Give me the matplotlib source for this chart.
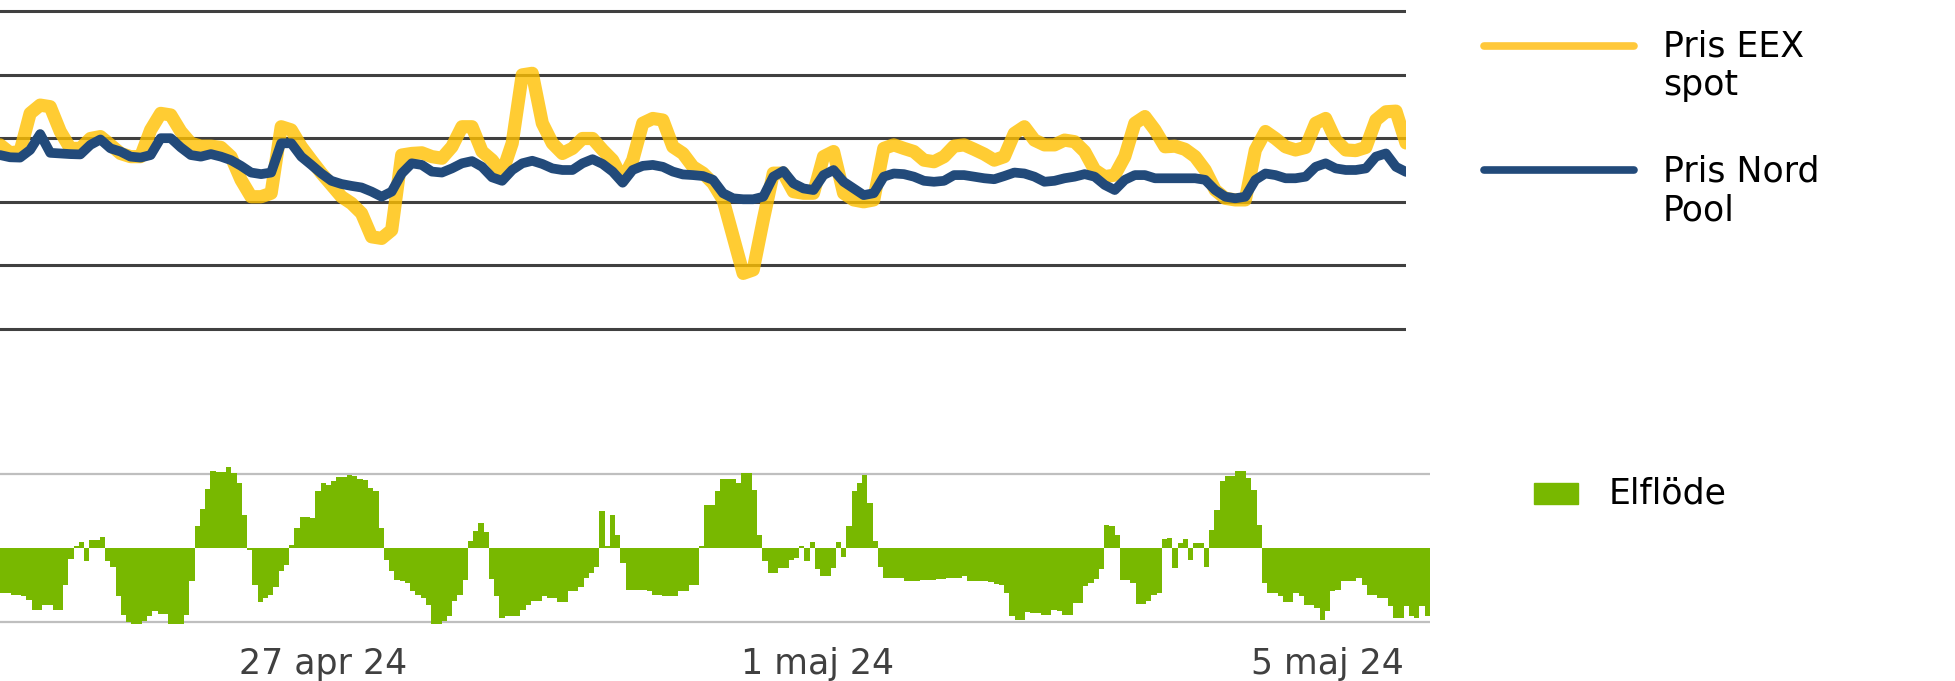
import matplotlib.pyplot as plt
from matplotlib.lines import Line2D
from matplotlib.patches import Rectangle

plt.rcParams['font.family'] = ['DejaVu Sans']

# Pris EEX spot (gul) och Pris Nord Pool (blå)
eex_spot = [57.9, 55.4, 55.8, 67.8, 70.4, 69.9, 62.1, 56.8, 56.8, 59.9,
            60.5, 57.9, 55.2, 54.2, 54.2, 62.6, 67.8, 67.3, 62.1, 58.4,
            57.5, 57.5, 57.1, 54.2, 46.9, 41.6, 41.6, 42.7, 63.6, 62.6,
            57.3, 53.1, 49.0, 45.3, 41.6, 39.5, 36.4, 29.0, 28.5, 31.1,
            54.7, 55.2, 55.4, 54.2, 53.7, 57.3, 63.6, 63.6, 55.8, 53.1,
            49.0, 58.4, 79.9, 80.4, 64.7, 58.4, 55.2, 56.8, 59.9, 59.9,
            56.3, 53.1, 46.9, 53.1, 64.7, 66.2, 65.7, 57.3, 55.2, 51.0,
            49.0, 45.8, 40.6, 29.0, 17.5, 18.6, 34.3, 49.0, 49.0, 43.2,
            42.7, 42.7, 54.2, 55.8, 42.7, 40.6, 40.0, 40.6, 56.8, 57.9,
            56.8, 55.8, 53.1, 52.6, 54.2, 57.5, 57.9, 56.5, 55.0, 53.1,
            54.2, 61.5, 63.6, 59.4, 57.9, 57.9, 59.4, 58.9, 55.8, 50.0,
            47.9, 48.4, 54.2, 64.7, 66.8, 62.6, 57.3, 57.5, 56.5, 54.2,
            50.0, 43.7, 41.1, 40.6, 40.6, 56.3, 62.1, 59.9, 57.3, 56.3,
            57.1, 64.7, 66.2, 59.4, 56.3, 56.1, 57.1, 65.7, 68.3, 68.5,
            58.5]

nord_pool = [54.7, 54.0, 53.9, 56.3, 61.3, 55.4, 55.2, 55.0, 54.9, 57.9,
             59.6, 56.8, 55.8, 54.2, 53.9, 54.7, 60.0, 60.0, 57.1, 54.7,
             54.2, 55.0, 54.2, 53.1, 51.3, 49.2, 48.7, 49.2, 58.4, 58.4,
             54.2, 51.6, 48.9, 46.6, 45.6, 45.0, 44.5, 43.2, 41.6, 43.2,
             48.9, 52.1, 51.6, 49.5, 49.2, 50.5, 52.1, 52.8, 51.0, 47.7,
             46.6, 50.0, 52.1, 52.9, 51.9, 50.5, 50.0, 50.0, 52.1, 53.4,
             51.9, 49.5, 46.0, 50.0, 51.3, 51.6, 51.0, 49.5, 48.6, 48.4,
             48.1, 46.9, 42.7, 41.1, 40.8, 40.8, 41.6, 47.9, 49.7, 45.8,
             44.2, 43.7, 48.4, 50.0, 46.3, 44.2, 42.1, 42.7, 47.9, 48.9,
             48.7, 47.9, 46.6, 46.3, 46.6, 48.4, 48.4, 47.9, 47.4, 47.1,
             48.1, 49.2, 48.9, 47.9, 46.3, 46.6, 47.4, 47.9, 48.7, 47.9,
             45.3, 43.7, 46.9, 48.4, 48.4, 47.4, 47.4, 47.4, 47.4, 47.4,
             46.9, 43.7, 41.6, 41.1, 41.6, 46.9, 48.9, 48.4, 47.4, 47.4,
             47.9, 51.0, 52.1, 50.5, 50.0, 50.0, 50.5, 54.2, 55.2, 51.0,
             49.4]

price_grid = [0, 20, 40, 60, 80, 100]

# Elflöde per timme (MW)
elflode = [-1220, -1220, -1260, -1280, -1300, -1400, -1670, -1670, -1530, -1530,
           -1670, -1670, -990, -290, 50, 160, -340, 210, 210, 300,
           -340, -520, -1300, -1800, -2010, -2050, -2050, -1980, -1850, -1690,
           -1780, -1780, -2050, -2050, -2050, -1800, -900, 590, 1050, 1590,
           2070, 2050, 2050, 2180, 2030, 1760, 900, -50, -990, -1470,
           -1350, -1260, -1060, -630, -450, 90, 540, 840, 840, 810,
           1550, 1760, 1710, 1800, 1910, 1910, 1980, 1940, 1870, 1850,
           1620, 1530, 540, -320, -630, -860, -900, -950, -1170, -1260,
           -1350, -1530, -2050, -2050, -1980, -1850, -1420, -1260, -860, 180,
           450, 680, 430, -830, -1310, -1890, -1830, -1830, -1830, -1670,
           -1530, -1420, -1420, -1290, -1350, -1350, -1460, -1460, -1150, -1150,
           -1050, -810, -680, -520, 990, 50, 900, 360, -410, -1130,
           -1130, -1130, -1130, -1170, -1260, -1260, -1310, -1310, -1310, -1170,
           -1170, -990, -990, 50, 1170, 1170, 1530, 1860, 1860, 1860,
           1760, 2030, 2030, 1580, 360, -340, -680, -680, -540, -540,
           -320, -270, 50, -340, 160, -570, -770, -770, -540, 150,
           -230, 590, 1530, 1760, 1960, 1220, 180, -500, -810, -810,
           -810, -810, -880, -880, -880, -860, -860, -860, -830, -830,
           -810, -810, -810, -770, -880, -880, -880, -900, -920, -970,
           -990, -1220, -1850, -1940, -1940, -1740, -1760, -1760, -1820, -1800,
           -1670, -1690, -1800, -1800, -1490, -1490, -1040, -950, -830, -570,
           630, 590, 360, -860, -860, -950, -1510, -1510, -1420, -1260,
           -1220, 230, 270, -540, 140, 250, -320, 140, 140, -500,
           500, 1040, 1800, 1940, 1940, 2090, 2090, 1890, 1580, 630,
           -950, -1220, -1220, -1310, -1470, -1470, -1220, -1310, -1530, -1530,
           -1620, -1940, -1710, -1170, -1130, -900, -900, -900, -810, -990,
           -1260, -1260, -1350, -1350, -1580, -1890, -1890, -1560, -1850, -1890,
           -1580, -1850]

flow_grid = [-2000, 2000]
tick_pos = [61, 155, 252]
tick_labels = ['27 apr 24', '1 maj 24', '5 maj 24']

W, H = 1956, 681
fig = plt.figure(figsize=(W / 100, H / 100), dpi=100)


def fx(px):
    return px / W


def fy(px):
    return 1 - px / H


# --- priser ---
ax1 = fig.add_axes([0, fy(335.4), fx(1406), (335.4 - 4.6) / H])
xs = range(len(eex_spot))
ax1.plot(xs, eex_spot, color='#FFC000', alpha=0.8, lw=9.5,
         solid_capstyle='round', solid_joinstyle='round')
ax1.plot(xs, nord_pool, color='#224A7A', lw=7,
         solid_capstyle='round', solid_joinstyle='round')
ax1.set_xlim(0, len(eex_spot) - 1)
ax1.set_ylim(-2, 102)
ax1.set_yticks(price_grid)
ax1.set_xticks([])
ax1.grid(axis='y', color='#404040', lw=2.2)
ax1.set_axisbelow(True)
ax1.tick_params(length=0, labelleft=False)
for s in ax1.spines.values():
    s.set_visible(False)

# --- elflöde ---
ax2 = fig.add_axes([0, fy(633.1), fx(1430), (633.1 - 459.2) / H])
ax2.bar(range(len(elflode)), elflode, width=1.0, color='#78B800', linewidth=0)
ax2.set_xlim(-0.5, len(elflode) - 0.5)
ax2.set_ylim(-2300, 2400)
ax2.set_yticks(flow_grid)
ax2.grid(axis='y', color='#BFBFBF', lw=1.6)
ax2.set_axisbelow(True)
ax2.set_xticks(tick_pos, tick_labels)
ax2.tick_params(axis='x', length=0, pad=10, labelsize=25, labelcolor='#404040')
ax2.tick_params(axis='y', length=0, labelleft=False)
for s in ax2.spines.values():
    s.set_visible(False)

# --- förklaringar ---
fig.add_artist(Line2D([fx(1484), fx(1634)], [fy(46), fy(46)], color='#FFC83A',
                      lw=5.5, solid_capstyle='round'))
fig.add_artist(Line2D([fx(1484), fx(1634)], [fy(170), fy(170)], color='#224A7A',
                      lw=5.5, solid_capstyle='round'))
fig.text(fx(1663), fy(66), 'Pris EEX\nspot', fontsize=25, va='center',
         ha='left', linespacing=1.15)
fig.text(fx(1663), fy(191), 'Pris Nord\nPool', fontsize=25, va='center',
         ha='left', linespacing=1.15)
fig.add_artist(Rectangle((fx(1534), fy(504)), fx(44), 21 / H,
                         transform=fig.transFigure, color='#78B800'))
fig.text(fx(1609), fy(494), 'Elflöde', fontsize=25, va='center', ha='left')

fig.savefig('out.png', dpi=100)
